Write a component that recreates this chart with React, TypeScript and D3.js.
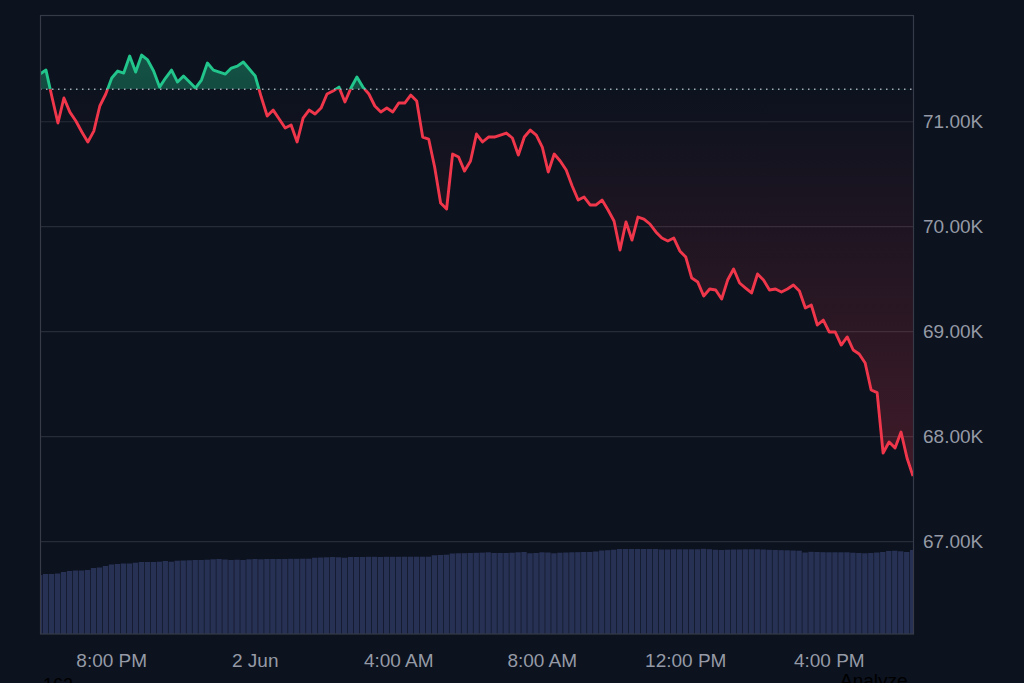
import React from "react";
import * as d3 from "d3";

// 10-minute closes, 1 Jun 18:00 -> 2 Jun 18:20
const prices = [
  71454, 71492, 71235, 70988, 71226, 71092, 71007, 70902, 70807, 70911,
  71150, 71264, 71416, 71483, 71464, 71626, 71473, 71635, 71588, 71483,
  71330, 71416, 71492, 71378, 71435, 71378, 71321, 71397, 71559, 71492,
  71473, 71454, 71511, 71530, 71569, 71502, 71435, 71235, 71054, 71111,
  71026, 70940, 70969, 70807, 71035, 71111, 71073, 71130, 71264, 71292,
  71330, 71188, 71321, 71426, 71330, 71264, 71150, 71092, 71130, 71092,
  71178, 71178, 71254, 71197, 70854, 70835, 70569, 70226, 70169, 70692,
  70664, 70530, 70626, 70883, 70807, 70854, 70854, 70873, 70892, 70845,
  70683, 70854, 70921, 70873, 70759, 70521, 70692, 70626, 70540, 70388,
  70254, 70283, 70207, 70207, 70254, 70159, 70054, 69778, 70045, 69873,
  70092, 70073, 70026, 69950, 69892, 69864, 69892, 69769, 69711, 69511,
  69473, 69340, 69407, 69397, 69311, 69492, 69597, 69464, 69416, 69369,
  69550, 69492, 69397, 69407, 69378, 69407, 69445, 69388, 69226, 69254,
  69064, 69111, 68997, 68997, 68873, 68950, 68826, 68788, 68702, 68445,
  68420, 67845, 67950, 67892, 68045, 67797, 67626,
];

const volumes = [
  59.0, 60.0, 60.0, 60.5, 62.0, 63.0, 63.5, 63.5, 64.0, 66.0,
  66.5, 68.0, 69.5, 70.0, 70.5, 70.5, 71.3, 72.0, 72.0, 72.0,
  72.3, 73.0, 72.3, 73.3, 73.5, 73.7, 74.0, 74.0, 74.3, 74.7,
  75.0, 74.5, 74.0, 74.3, 74.0, 74.7, 75.0, 74.7, 75.0, 75.0,
  75.0, 75.0, 75.2, 75.2, 75.3, 75.3, 76.3, 76.5, 76.7, 77.0,
  76.7, 76.3, 77.0, 77.0, 77.0, 77.2, 77.2, 77.0, 77.2, 77.2,
  77.2, 77.3, 77.3, 77.3, 77.3, 77.3, 78.7, 79.0, 79.3, 80.5,
  80.7, 80.8, 81.0, 81.2, 81.4, 81.7, 81.0, 81.0, 81.0, 81.3,
  81.7, 82.0, 80.7, 81.0, 81.7, 81.5, 80.7, 81.3, 81.5, 81.7,
  81.8, 82.0, 82.0, 82.5, 83.5, 83.8, 84.3, 85.0, 85.0, 85.0,
  85.0, 85.0, 85.0, 85.0, 84.5, 84.5, 84.7, 84.7, 84.7, 84.7,
  84.7, 85.2, 84.8, 84.3, 84.0, 84.3, 84.5, 84.5, 84.7, 84.7,
  84.7, 84.5, 84.2, 84.0, 83.8, 83.7, 83.5, 83.3, 81.5, 82.2,
  82.0, 81.8, 81.7, 81.7, 81.7, 81.7, 81.3, 81.0, 80.7, 81.0,
  81.5, 82.0, 83.0, 83.3, 82.7, 82.0, 84.0,
];

const baseline = 71310;
const priceTicks = [67000, 68000, 69000, 70000, 71000];
const timeTickLabels = ["8:00 PM", "2 Jun", "4:00 AM", "8:00 AM", "12:00 PM", "4:00 PM"];

const start = new Date(2024, 5, 1, 18, 0);
const times = prices.map((_, i) => new Date(start.getTime() + i * 10 * 60000));
const timeTicks = timeTickLabels.map((_, i) => new Date(2024, 5, 1, 20 + i * 4, 0));

const W = 1024;
const H = 683;
const left = 40;
const right = 913.5;
const top = 16;
const bottom = 634;

const BG = "#0c121e";
const GREEN = "#22c58b";
const RED = "#f0364a";
const FONT = "'Liberation Sans', Arial, sans-serif";

export default function App() {
  const x = d3.scaleTime().domain([times[0], times[times.length - 1]]).range([left, right - 0.5]);
  const y = d3.scaleLinear().domain([66121, 72007]).range([bottom, top]);
  const yv = d3.scaleLinear().domain([0, 100]).range([bottom, bottom - 100]);
  const yBase = y(baseline);

  const line = d3
    .line<number>()
    .x((_, i) => x(times[i]))
    .y((d) => y(d));
  const area = d3
    .area<number>()
    .x((_, i) => x(times[i]))
    .y0(yBase)
    .y1((d) => y(d));

  const step = x(times[1]) - x(times[0]);
  const fmt = d3.format(".2f");

  return (
    <svg
      width={W}
      height={H}
      style={{ position: "fixed", left: 0, top: 0 }}
      xmlns="http://www.w3.org/2000/svg"
    >
      <defs>
        <clipPath id="plot">
          <rect x={left} y={top} width={right - left} height={bottom - top} />
        </clipPath>
        <clipPath id="above">
          <rect x={left} y={top} width={right - left} height={yBase - top} />
        </clipPath>
        <clipPath id="below">
          <rect x={left} y={yBase} width={right - left} height={bottom - yBase} />
        </clipPath>
        <linearGradient id="gFill" gradientUnits="userSpaceOnUse" x1={0} x2={0} y1={top} y2={yBase}>
          <stop offset="0%" stopColor={GREEN} stopOpacity={0.42} />
          <stop offset="100%" stopColor={GREEN} stopOpacity={0.32} />
        </linearGradient>
        <linearGradient id="rFill" gradientUnits="userSpaceOnUse" x1={0} x2={0} y1={yBase} y2={bottom}>
          <stop offset="0%" stopColor={RED} stopOpacity={0} />
          <stop offset="100%" stopColor={RED} stopOpacity={0.32} />
        </linearGradient>
      </defs>

      <rect width={W} height={H} fill={BG} />

      {/* grid */}
      {priceTicks.map((t) => (
        <line key={t} x1={left} x2={right} y1={y(t)} y2={y(t)} stroke="#272c38" strokeWidth={1.2} />
      ))}

      {/* volume */}
      <g clipPath="url(#plot)">
        {volumes.map((v, i) => (
          <rect
            key={i}
            x={x(times[i]) - step / 2}
            y={yv(v)}
            width={step - 0.6}
            height={bottom - yv(v)}
            fill="#273154"
          />
        ))}
      </g>

      {/* baseline area + line */}
      <g clipPath="url(#above)">
        <path d={area(prices) ?? ""} fill="url(#gFill)" />
        <path d={line(prices) ?? ""} fill="none" stroke={GREEN} strokeWidth={2.9} strokeLinejoin="round" />
      </g>
      <g clipPath="url(#below)">
        <path d={area(prices) ?? ""} fill="url(#rFill)" />
        <path d={line(prices) ?? ""} fill="none" stroke={RED} strokeWidth={2.9} strokeLinejoin="round" />
      </g>

      <line
        x1={left}
        x2={right}
        y1={yBase}
        y2={yBase}
        stroke="#a3a8b3"
        strokeWidth={1.5}
        strokeDasharray="1.5 4.5"
      />

      {/* frame */}
      <rect
        x={left + 0.5}
        y={top - 0.5}
        width={right - left - 0.5}
        height={bottom - top + 0.5}
        fill="none"
        stroke="#363b47"
        strokeWidth={1.2}
      />

      {/* price axis */}
      {priceTicks.map((t) => (
        <text
          key={t}
          x={923}
          y={y(t)}
          dy="0.35em"
          fill="#959aa6"
          fontFamily={FONT}
          fontSize={19}
        >
          {fmt(t / 1000)}K
        </text>
      ))}

      {/* time axis */}
      {timeTicks.map((t, i) => (
        <text
          key={i}
          x={x(t)}
          y={667}
          textAnchor="middle"
          fill="#959aa6"
          fontFamily={FONT}
          fontSize={19}
        >
          {timeTickLabels[i]}
        </text>
      ))}

      {/* page text below the chart, cut off by the window as in the reference */}
      <text x={43} y={691} fill="#000" fontFamily={FONT} fontSize={18}>
        162
      </text>
      <text x={840} y={687} fill="#000" fontFamily={FONT} fontSize={19}>
        Analyze
      </text>
    </svg>
  );
}
